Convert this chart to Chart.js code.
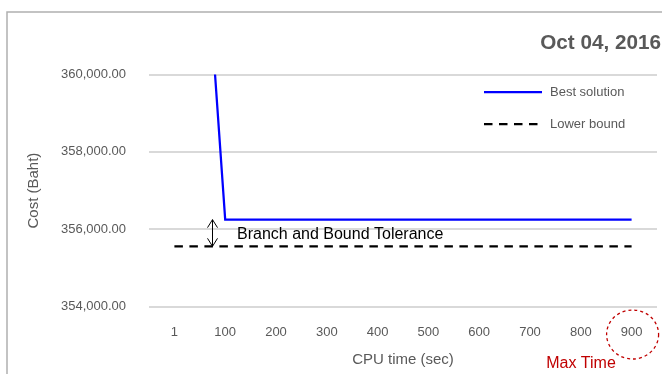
<!DOCTYPE html>
<html>
<head>
<meta charset="utf-8">
<script src="https://cdn.jsdelivr.net/npm/chart.js@4.4.1/dist/chart.umd.min.js"></script>
<style>
  html, body { margin: 0; padding: 0; background: #fff; }
  #wrap { position: relative; width: 662px; height: 374px; }
</style>
</head>
<body>
<div id="wrap"><canvas id="costChart"></canvas></div>
<script>
// CPU time categories (sec)
const cpuTimes = ['1', '100', '200', '300', '400', '500', '600', '700', '800', '900'];
// Best solution found (Baht) - the first value runs off the top of the chart
const bestSolution = [375000, 356250, 356250, 356250, 356250, 356250, 356250, 356250, 356250, 356250];
// Lower bound of the branch and bound search (Baht)
const lowerBound = [355560, 355560, 355560, 355560, 355560, 355560, 355560, 355560, 355560, 355560];
// Y axis tick values
const costTicks = [354000, 356000, 358000, 360000];

const FONT = "'Liberation Sans', Arial, sans-serif";
const GREY = '#595959';
Chart.defaults.font.family = FONT;

// Draws the frame, date title, legend and the annotations
const decorations = {
  id: 'decorations',
  beforeDraw(chart) {
    const ctx = chart.ctx;
    ctx.save();
    ctx.strokeStyle = '#b0b0b0';
    ctx.lineWidth = 1.5;
    ctx.beginPath();
    ctx.moveTo(7, 374);
    ctx.lineTo(7, 12);
    ctx.lineTo(662, 12);
    ctx.stroke();
    ctx.restore();
  },
  afterDraw(chart) {
    const ctx = chart.ctx;
    const x = chart.scales.x;
    const y = chart.scales.y;
    ctx.save();

    // date title
    ctx.fillStyle = GREY;
    ctx.font = 'bold 20.7px ' + FONT;
    ctx.textAlign = 'right';
    ctx.textBaseline = 'middle';
    ctx.fillText('Oct 04, 2016', 661, 43);

    // legend
    ctx.textAlign = 'left';
    ctx.font = '13px ' + FONT;
    chart.data.datasets.forEach((ds, i) => {
      const ly = 92 + i * 32;
      ctx.strokeStyle = ds.borderColor;
      ctx.lineWidth = ds.borderWidth;
      ctx.setLineDash(ds.borderDash || []);
      ctx.beginPath();
      ctx.moveTo(484, ly);
      ctx.lineTo(542, ly);
      ctx.stroke();
      ctx.setLineDash([]);
      ctx.fillStyle = GREY;
      ctx.fillText(ds.label, 550, ly);
    });

    // tolerance arrow between best solution and lower bound
    const ax = x.getPixelForValue(0.75);
    const top = y.getPixelForValue(bestSolution[1]);
    const bot = y.getPixelForValue(lowerBound[1]);
    ctx.strokeStyle = '#000';
    ctx.lineWidth = 1;
    ctx.beginPath();
    ctx.moveTo(ax, top);
    ctx.lineTo(ax, bot);
    ctx.moveTo(ax - 5, top + 8);
    ctx.lineTo(ax, top);
    ctx.lineTo(ax + 5, top + 8);
    ctx.moveTo(ax - 5, bot - 8);
    ctx.lineTo(ax, bot);
    ctx.lineTo(ax + 5, bot - 8);
    ctx.stroke();
    ctx.fillStyle = '#000';
    ctx.font = '16px ' + FONT;
    ctx.fillText('Branch and Bound Tolerance', 237, (top + bot) / 2 + 1.5);

    // max time marker
    const mx = x.getPixelForValue(cpuTimes.length - 1);
    ctx.strokeStyle = '#c00000';
    ctx.lineWidth = 1.3;
    ctx.setLineDash([3, 3]);
    ctx.beginPath();
    ctx.ellipse(mx + 1, 334.5, 26, 24.5, 0, 0, Math.PI * 2);
    ctx.stroke();
    ctx.setLineDash([]);
    ctx.fillStyle = '#c00000';
    ctx.font = '16px ' + FONT;
    ctx.textAlign = 'center';
    ctx.fillText('Max Time', 581, 364);
    ctx.restore();
  }
};

new Chart(document.getElementById('costChart'), {
  type: 'line',
  data: {
    labels: cpuTimes,
    datasets: [
      {
        label: 'Best solution',
        data: bestSolution,
        borderColor: '#0000ff',
        borderWidth: 2.25,
        pointRadius: 0,
        tension: 0
      },
      {
        label: 'Lower bound',
        data: lowerBound,
        borderColor: '#000000',
        borderWidth: 2.25,
        borderDash: [8.5, 6.5],
        pointRadius: 0,
        tension: 0
      }
    ]
  },
  options: {
    responsive: true,
    maintainAspectRatio: false,
    animation: false,
    devicePixelRatio: 1,
    layout: { padding: { left: 0, top: 74.5, right: 5, bottom: 0 } },
    plugins: {
      legend: { display: false },
      tooltip: { enabled: false }
    },
    scales: {
      x: {
        type: 'category',
        offset: true,
        grid: { display: false, drawTicks: false },
        border: { display: false },
        ticks: { color: GREY, font: { size: 13 }, padding: 18, maxRotation: 0 },
        title: {
          display: true,
          text: 'CPU time (sec)',
          color: GREY,
          font: { size: 15 },
          padding: { top: 4, bottom: 5 }
        },
        afterFit(scale) { scale.height = 67.3; }
      },
      y: {
        min: costTicks[0],
        max: costTicks[costTicks.length - 1],
        afterBuildTicks(scale) { scale.ticks = costTicks.map(v => ({ value: v })); },
        grid: { color: '#d9d9d9', lineWidth: 2, drawTicks: false },
        border: { display: false },
        ticks: {
          color: GREY,
          font: { size: 13 },
          padding: 23,
          callback: v => v.toLocaleString('en-US', { minimumFractionDigits: 2, maximumFractionDigits: 2 })
        },
        title: {
          display: true,
          text: 'Cost (Baht)',
          color: GREY,
          font: { size: 15 },
          padding: { top: 25, bottom: 0 }
        },
        afterFit(scale) { scale.width = 149; }
      }
    }
  },
  plugins: [decorations]
});
</script>
</body>
</html>
